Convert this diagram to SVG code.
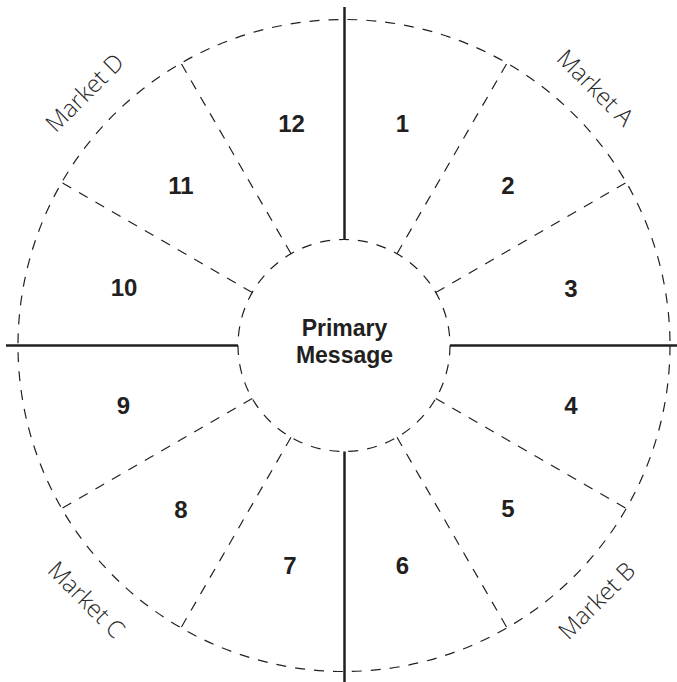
<svg xmlns="http://www.w3.org/2000/svg" width="677" height="682" viewBox="0 0 677 682">
  <style>
    .solid { stroke: #231f20; stroke-width: 2.5; fill: none; }
    .dash { stroke: #231f20; stroke-width: 1.2; fill: none; stroke-dasharray: 10 9; }
    .num { font-family: "Liberation Sans", Arial, sans-serif; font-weight: bold; font-size: 24px; fill: #231f20; text-anchor: middle; }
    .center { font-family: "Liberation Sans", Arial, sans-serif; font-weight: bold; font-size: 23px; fill: #231f20; text-anchor: middle; }
    .market { font-family: "Open Sans", "Liberation Sans", sans-serif; font-weight: 300; font-size: 24px; fill: #2a2a2a; text-anchor: middle; }
  </style>
  <rect width="677" height="682" fill="#ffffff"/>
  <g id="connectors">
    <circle class="dash" cx="344" cy="345.5" r="326"/>
    <line class="dash" x1="397" y1="253.7" x2="507" y2="63.2"/>
    <line class="dash" x1="435.8" y1="292.5" x2="626.3" y2="182.5"/>
    <line class="dash" x1="435.8" y1="398.5" x2="626.3" y2="508.5"/>
    <line class="dash" x1="397" y1="437.3" x2="507" y2="627.8"/>
    <line class="dash" x1="291" y1="437.3" x2="181" y2="627.8"/>
    <line class="dash" x1="252.2" y1="398.5" x2="61.7" y2="508.5"/>
    <line class="dash" x1="252.2" y1="292.5" x2="61.7" y2="182.5"/>
    <line class="dash" x1="291" y1="253.7" x2="181" y2="63.2"/>
    <line class="solid" x1="344.5" y1="7" x2="344.5" y2="239.5"/>
    <line class="solid" x1="344.5" y1="451.5" x2="344.5" y2="682"/>
    <line class="solid" x1="6" y1="345.5" x2="238" y2="345.5"/>
    <line class="solid" x1="450" y1="345.5" x2="677" y2="345.5"/>
  </g>
  <g id="primary-message">
    <circle class="dash" cx="344" cy="345.5" r="106" fill="#ffffff"/>
    <text class="center" x="344.5" y="336">Primary</text>
    <text class="center" x="344.5" y="363">Message</text>
  </g>
  <g id="sector-1"><text class="num" x="402.5" y="132">1</text></g>
  <g id="sector-2"><text class="num" x="508" y="194">2</text></g>
  <g id="sector-3"><text class="num" x="571" y="297">3</text></g>
  <g id="sector-4"><text class="num" x="571" y="414">4</text></g>
  <g id="sector-5"><text class="num" x="508" y="517">5</text></g>
  <g id="sector-6"><text class="num" x="402.5" y="574">6</text></g>
  <g id="sector-7"><text class="num" x="290" y="574">7</text></g>
  <g id="sector-8"><text class="num" x="181" y="518">8</text></g>
  <g id="sector-9"><text class="num" x="123.5" y="414">9</text></g>
  <g id="sector-10"><text class="num" x="124" y="296">10</text></g>
  <g id="sector-11"><text class="num" x="181" y="194">11</text></g>
  <g id="sector-12"><text class="num" x="291.5" y="132">12</text></g>
  <g id="market-a"><text class="market" transform="translate(595,88) rotate(45)" y="8">Market A</text></g>
  <g id="market-b"><text class="market" transform="translate(597,601) rotate(-45)" y="8">Market B</text></g>
  <g id="market-c"><text class="market" transform="translate(86,600) rotate(45)" y="8">Market C</text></g>
  <g id="market-d"><text class="market" transform="translate(85,93) rotate(-45)" y="8">Market D</text></g>
</svg>
